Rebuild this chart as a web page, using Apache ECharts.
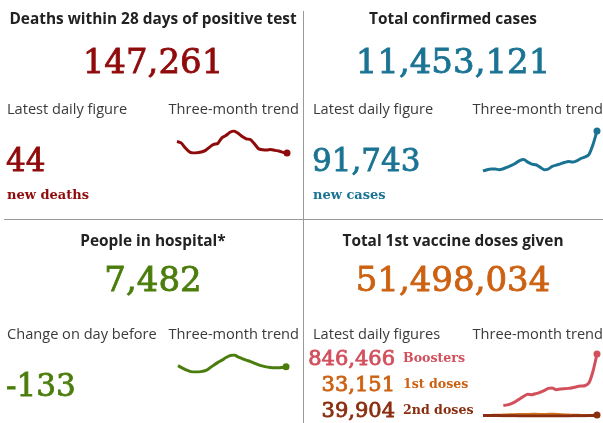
<!DOCTYPE html>
<html>
<head>
<meta charset="utf-8">
<script src="https://cdn.jsdelivr.net/npm/echarts@6/dist/echarts.min.js"></script>
<style>
html,body{margin:0;padding:0;background:#fff;}
#chart{width:603px;height:423px;}
</style>
</head>
<body>
<div id="chart"></div>
<script>
// ---- Data ----
var panelTitles = ["Deaths within 28 days of positive test", "Total confirmed cases", "People in hospital*", "Total 1st vaccine doses given"];
var headlineValues = ["147,261", "11,453,121", "7,482", "51,498,034"];
var subLabels = ["Latest daily figure", "Latest daily figure", "Change on day before", "Latest daily figures"];
var trendLabel = "Three-month trend";
var latestDeaths = "44", latestDeathsLabel = "new deaths";
var latestCases = "91,743", latestCasesLabel = "new cases";
var hospitalChange = "-133";
var vaccineDaily = ["846,466", "33,151", "39,904"];
var vaccineDailyLabels = ["Boosters", "1st doses", "2nd doses"];

var deathsTrend = [135,131,116,104,100,101,103,108,118,126,129,146,153,163,167,160,150,143,141,128,113,110,109,111,108,106,102,100];
var casesTrend = [30000,32000,33000,33000,32000,33500,36000,38600,42100,46200,47700,43700,40600,39600,36000,32000,33000,37100,39100,41100,43200,44700,43700,45700,49200,51300,55300,70500,91743];
var hospitalTrend = [7582,7407,7257,7132,7082,7082,7132,7207,7407,7632,7832,8007,8207,8357,8407,8257,8132,8007,7907,7782,7657,7557,7482,7432,7407,7407,7432,7482];
var boostersTrend = [null,null,null,null,null,165900,174600,192100,218200,253200,288100,314200,309900,323000,340400,362200,392800,397100,375300,384000,388400,392800,401500,414600,423300,427700,462600,615300,846466];
var firstDosesTrend = [34000,35000,36000,37000,38000,40000,42000,44000,46000,47000,48000,49000,50000,50000,49000,48000,50000,52000,49000,45000,42000,40000,38000,37000,36000,35000,34000,33000,33151];
var secondDosesTrend = [36000,35000,34000,33000,33000,32000,31000,30000,30000,29000,29000,28000,28000,28000,28000,28000,28000,28000,28000,28000,29000,29000,30000,30000,31000,32000,33000,36000,39904];

// ---- Styles ----
var C = {
  deaths: '#8f0a0a', cases: '#1b7393', hosp: '#4b7d0c', vacc: '#cc6112',
  boost: '#d24f5c', first: '#d0721e', second: '#8a2e10',
  title: '#222222', label: '#3a3a3a', rule: '#9a9a9a'
};
var SANS = '"Open Sans", "Noto Sans", sans-serif';
var SERIF = '"DejaVu Serif", serif';

function idx(arr){ return arr.map(function(_, i){ return i; }); }
function txt(x, y, s, opt){
  return {
    type: 'text', x: x, y: y, silent: true,
    style: Object.assign({ text: s, fill: C.label, font: '14.6px ' + SANS, textAlign: 'left', textVerticalAlign: 'middle' }, opt || {})
  };
}
function num(x, y, s, color, size, align){
  return txt(x, y, s, { fill: color, stroke: color, lineWidth: 0.8, font: size + 'px ' + SERIF, textAlign: align || 'left' });
}
function lastDot(arr, size){
  return function(v, p){ return p.dataIndex === arr.length - 1 ? size : 0; };
}
function lineSeries(arr, color, gi, dot, smooth){
  return {
    type: 'line', xAxisIndex: gi, yAxisIndex: gi, data: arr,
    smooth: smooth == null ? 0.3 : smooth, symbol: 'circle', showSymbol: true, showAllSymbol: true,
    symbolSize: dot ? lastDot(arr, 7) : 0,
    itemStyle: { color: color }, lineStyle: { color: color, width: 3 },
    connectNulls: false, animation: false, silent: true, z: 3
  };
}

var grids = [
  { left: 177, top: 131, width: 110, height: 22 },
  { left: 483, top: 131, width: 114, height: 40 },
  { left: 178, top: 355, width: 108, height: 17 },
  { left: 483, top: 354, width: 114, height: 62 }
];
var xData = [deathsTrend, casesTrend, hospitalTrend, firstDosesTrend];

var option = {
  backgroundColor: '#ffffff',
  animation: false,
  grid: grids,
  xAxis: grids.map(function(g, i){
    return { gridIndex: i, type: 'category', data: idx(xData[i]), boundaryGap: false, show: false };
  }),
  yAxis: grids.map(function(g, i){
    return { gridIndex: i, type: 'value', scale: true, min: 'dataMin', max: 'dataMax', show: false, splitLine: { show: false } };
  }),
  series: [
    lineSeries(deathsTrend, C.deaths, 0, true, 0.15),
    lineSeries(casesTrend, C.cases, 1, true, 0.2),
    lineSeries(hospitalTrend, C.hosp, 2, true, 0.4),
    lineSeries(firstDosesTrend, C.first, 3, false),
    lineSeries(secondDosesTrend, C.second, 3, true),
    lineSeries(boostersTrend, C.boost, 3, true, 0.2)
  ],
  graphic: [
    { type: 'line', shape: { x1: 303.5, y1: 11, x2: 303.5, y2: 423 }, style: { stroke: C.rule, lineWidth: 1 }, silent: true },
    { type: 'line', shape: { x1: 4, y1: 219.5, x2: 603, y2: 219.5 }, style: { stroke: C.rule, lineWidth: 1 }, silent: true },

    txt(153, 20, panelTitles[0], { fill: C.title, font: 'bold 15.4px ' + SANS, textAlign: 'center' }),
    txt(453, 20, panelTitles[1], { fill: C.title, font: 'bold 15.4px ' + SANS, textAlign: 'center' }),
    txt(153, 242, panelTitles[2], { fill: C.title, font: 'bold 15.4px ' + SANS, textAlign: 'center' }),
    txt(453, 242, panelTitles[3], { fill: C.title, font: 'bold 15.4px ' + SANS, textAlign: 'center' }),

    num(153, 64, headlineValues[0], C.deaths, 34, 'center'),
    num(453, 64, headlineValues[1], C.cases, 34, 'center'),
    num(153, 282, headlineValues[2], C.hosp, 34, 'center'),
    num(453, 282, headlineValues[3], C.vacc, 34, 'center'),

    txt(7, 110, subLabels[0]),
    txt(313, 110, subLabels[1]),
    txt(7, 335, subLabels[2]),
    txt(313, 335, subLabels[3]),
    txt(299, 110, trendLabel, { textAlign: 'right' }),
    txt(603, 110, trendLabel, { textAlign: 'right' }),
    txt(299, 335, trendLabel, { textAlign: 'right' }),
    txt(603, 335, trendLabel, { textAlign: 'right' }),

    num(6, 163, latestDeaths, C.deaths, 31),
    txt(7, 196, latestDeathsLabel, { fill: C.deaths, font: 'bold 13px ' + SERIF }),
    num(312, 163, latestCases, C.cases, 31),
    txt(313, 196, latestCasesLabel, { fill: C.cases, font: 'bold 13px ' + SERIF }),
    num(6, 388, hospitalChange, C.hosp, 31),

    num(395, 360, vaccineDaily[0], C.boost, 21, 'right'),
    num(395, 386, vaccineDaily[1], C.vacc, 21, 'right'),
    num(395, 412, vaccineDaily[2], C.second, 21, 'right'),
    txt(403, 359, vaccineDailyLabels[0], { fill: C.boost, font: 'bold 12.6px ' + SERIF }),
    txt(403, 385, vaccineDailyLabels[1], { fill: C.vacc, font: 'bold 12.6px ' + SERIF }),
    txt(403, 411, vaccineDailyLabels[2], { fill: C.second, font: 'bold 12.6px ' + SERIF })
  ]
};

var chart = echarts.init(document.getElementById('chart'), null, { renderer: 'canvas' });
chart.setOption(option);
</script>
</body>
</html>
